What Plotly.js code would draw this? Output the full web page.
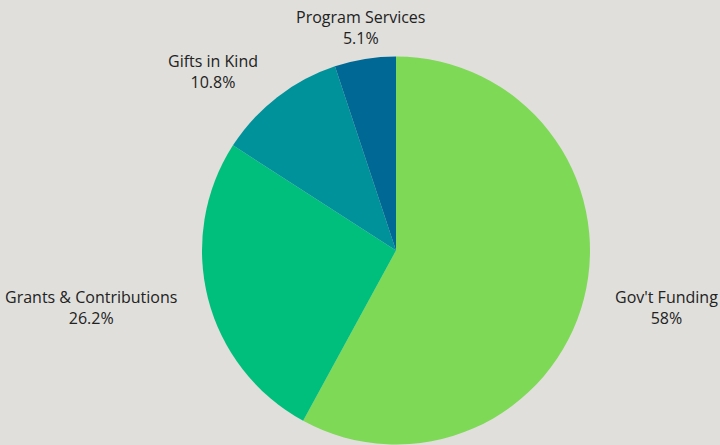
<!DOCTYPE html>
<html>
<head>
<meta charset="utf-8">
<script src="https://cdn.plot.ly/plotly-3.0.1.min.js"></script>
<style>html,body{margin:0;padding:0;background:#e0dfdb;}#chart{width:720px;height:445px;}</style>
</head>
<body>
<div id="chart"></div>
<script>
const categories = ["Gov't Funding", "Grants & Contributions", "Gifts in Kind", "Program Services"];
const shares = [58, 26.2, 10.8, 5.1];
const shareLabels = ["58%", "26.2%", "10.8%", "5.1%"];
const sliceColors = ["#7ed957", "#00bf7d", "#00929a", "#006894"];

const labelPos = [
  {x: 666/720, y: 1 - 307/445},
  {x: 91/720, y: 1 - 307/445},
  {x: 213/720, y: 1 - 71/445},
  {x: 360/720, y: 1 - 28/445}
];

const trace = {
  type: 'pie',
  labels: categories,
  values: shares,
  sort: false,
  direction: 'clockwise',
  rotation: 0,
  textinfo: 'none',
  hoverinfo: 'label+percent',
  marker: {colors: sliceColors, line: {width: 0}},
  domain: {x: [(396-194)/720, (396+194)/720], y: [(445-250.5-194)/445, (445-250.5+194)/445]},
  showlegend: false
};

const annotations = categories.map((c, i) => ({
  xref: 'paper', yref: 'paper',
  x: labelPos[i].x, y: labelPos[i].y,
  xanchor: 'center', yanchor: 'middle',
  text: c + '<br>' + shareLabels[i],
  showarrow: false,
  align: 'center',
  font: {family: 'Open Sans, sans-serif', size: 16, color: '#222222'}
}));

const layout = {
  width: 720, height: 445,
  margin: {l: 0, r: 0, t: 0, b: 0},
  paper_bgcolor: '#e0dfdb',
  plot_bgcolor: '#e0dfdb',
  annotations: annotations,
  showlegend: false
};

Plotly.newPlot('chart', [trace], layout, {displayModeBar: false, staticPlot: true});
</script>
</body>
</html>
